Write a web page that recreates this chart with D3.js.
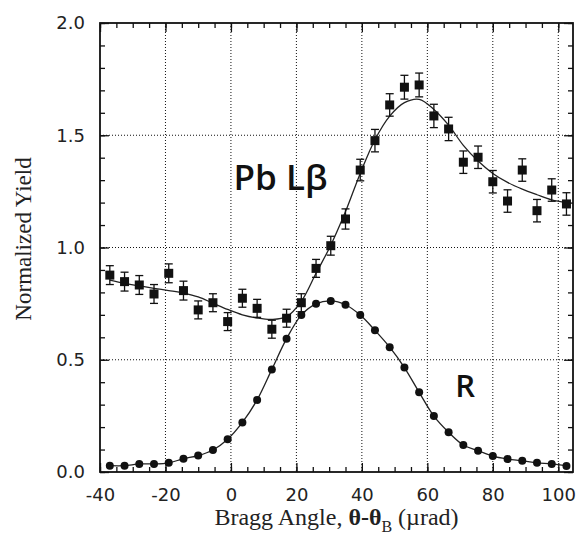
<!DOCTYPE html>
<html>
<head>
<meta charset="utf-8">
<script src="https://cdn.jsdelivr.net/npm/d3@7"></script>
<style>
  body { margin: 0; background: #fff; }
  .tick text { font-family: "DejaVu Sans", sans-serif; font-size: 18px; fill: #222; }
  .domain { display: none; }
</style>
</head>
<body>
<div class="svg"></div>
<script>
// Bragg angle (urad) of each scan step
var angle = [-37, -32.5, -28, -23.5, -19, -14.5, -10, -5.5, -1, 3.5, 8, 12.5, 17, 21.5, 26, 30.5,
             35, 39.5, 44, 48.5, 53, 57.5, 62, 66.5, 71, 75.5, 80, 84.5, 89, 93.5, 98, 102.5];

// Pb L-beta yield with error bars
var pbYield = [0.877, 0.848, 0.833, 0.793, 0.885, 0.808, 0.722, 0.754, 0.670, 0.774, 0.729, 0.636, 0.685, 0.754, 0.907, 1.008,
               1.127, 1.345, 1.476, 1.635, 1.714, 1.724, 1.586, 1.528, 1.380, 1.402, 1.293, 1.207, 1.345, 1.164, 1.256, 1.194];
var pbError = [0.042, 0.042, 0.042, 0.042, 0.042, 0.042, 0.04, 0.04, 0.04, 0.04, 0.04, 0.04, 0.04, 0.04, 0.04, 0.042,
               0.045, 0.048, 0.05, 0.05, 0.053, 0.053, 0.052, 0.052, 0.05, 0.05, 0.05, 0.05, 0.05, 0.05, 0.05, 0.05];
// fitted Pb L-beta curve
var pbFit = [0.855, 0.840, 0.829, 0.818, 0.808, 0.797, 0.780, 0.752, 0.724, 0.700, 0.686, 0.680, 0.692, 0.760, 0.885, 1.010,
             1.160, 1.330, 1.480, 1.585, 1.645, 1.660, 1.615, 1.545, 1.455, 1.385, 1.330, 1.290, 1.260, 1.235, 1.212, 1.200];

// reflectivity R
var rYield = [0.028, 0.028, 0.036, 0.036, 0.041, 0.059, 0.073, 0.098, 0.146, 0.221, 0.321, 0.457, 0.594, 0.699, 0.749, 0.762,
              0.745, 0.699, 0.631, 0.556, 0.465, 0.355, 0.249, 0.177, 0.120, 0.095, 0.071, 0.058, 0.050, 0.041, 0.036, 0.027];

var xMajor = [-40, -20, 0, 20, 40, 60, 80, 100];
var xMinor = d3.range(-40, 105, 5);
var yMajor = [0.0, 0.5, 1.0, 1.5, 2.0];
var yMinor = d3.range(0, 2.01, 0.1);

var margin = {top: 23, right: 4, bottom: 70, left: 100},
    outerWidth = 577,
    outerHeight = 542,
    width = outerWidth - margin.left - margin.right,
    height = outerHeight - margin.top - margin.bottom;

var x = d3.scaleLinear().domain([-40, 104.5]).range([0, width]);
var y = d3.scaleLinear().domain([0, 2]).range([height, 0]);

var outer = d3.select(".svg").append("svg")
    .attr("width", outerWidth)
    .attr("height", outerHeight);

var svg = outer.append("g")
    .attr("transform", "translate(" + margin.left + "," + margin.top + ")");

// dotted grid at the inner major ticks
svg.selectAll(".gx").data(xMajor.slice(1)).enter().append("line")
    .attr("x1", function(d){ return x(d); }).attr("x2", function(d){ return x(d); })
    .attr("y1", 0).attr("y2", height)
    .attr("stroke", "#111").attr("stroke-width", 1).attr("stroke-dasharray", "1,2");
svg.selectAll(".gy").data(yMajor.slice(1, -1)).enter().append("line")
    .attr("y1", function(d){ return y(d); }).attr("y2", function(d){ return y(d); })
    .attr("x1", 0).attr("x2", width)
    .attr("stroke", "#111").attr("stroke-width", 1).attr("stroke-dasharray", "1,2");

// inward ticks on all four sides
function addAxis(axis, tx, ty, labels) {
  var g = svg.append("g").attr("transform", "translate(" + tx + "," + ty + ")").call(axis);
  g.selectAll(".tick line").attr("stroke", "#111").attr("stroke-width", 1.3);
  if (!labels) g.selectAll(".tick text").remove();
  return g;
}
addAxis(d3.axisBottom(x).tickValues(xMinor).tickSize(-5), 0, height, false);
addAxis(d3.axisTop(x).tickValues(xMinor).tickSize(-5), 0, 0, false);
addAxis(d3.axisLeft(y).tickValues(yMinor).tickSize(-5), 0, 0, false);
addAxis(d3.axisRight(y).tickValues(yMinor).tickSize(-5), width, 0, false);

addAxis(d3.axisBottom(x).tickValues(xMajor).tickSize(-9).tickPadding(16)
    .tickFormat(function(d){ return String(d); }), 0, height, true);
addAxis(d3.axisTop(x).tickValues(xMajor).tickSize(-9), 0, 0, false);
addAxis(d3.axisLeft(y).tickValues(yMajor).tickSize(-9).tickPadding(15).tickFormat(d3.format(".1f")), 0, 0, true);
addAxis(d3.axisRight(y).tickValues(yMajor).tickSize(-9), width, 0, false);

// frame
svg.append("rect")
    .attr("width", width).attr("height", height)
    .attr("fill", "none").attr("stroke", "#111").attr("stroke-width", 1.8);

// fit lines
var pbLine = d3.line()
    .x(function(d, i){ return x(angle[i]); })
    .y(function(d){ return y(d); })
    .curve(d3.curveCatmullRom);

svg.append("path").attr("d", pbLine(pbFit))
    .attr("fill", "none").attr("stroke", "#222").attr("stroke-width", 1.3);
svg.append("path").attr("d", pbLine(rYield))
    .attr("fill", "none").attr("stroke", "#222").attr("stroke-width", 1.3);

// Pb error bars
var eb = svg.selectAll(".eb").data(pbYield).enter().append("g");
eb.append("line")
    .attr("x1", function(d, i){ return x(angle[i]); }).attr("x2", function(d, i){ return x(angle[i]); })
    .attr("y1", function(d, i){ return y(d - pbError[i]); })
    .attr("y2", function(d, i){ return y(d + pbError[i]); });
eb.append("line")
    .attr("x1", function(d, i){ return x(angle[i]) - 4; }).attr("x2", function(d, i){ return x(angle[i]) + 4; })
    .attr("y1", function(d, i){ return y(d - pbError[i]); })
    .attr("y2", function(d, i){ return y(d - pbError[i]); });
eb.append("line")
    .attr("x1", function(d, i){ return x(angle[i]) - 4; }).attr("x2", function(d, i){ return x(angle[i]) + 4; })
    .attr("y1", function(d, i){ return y(d + pbError[i]); })
    .attr("y2", function(d, i){ return y(d + pbError[i]); });
eb.selectAll("line").attr("stroke", "#111").attr("stroke-width", 1.3);

// Pb squares
svg.selectAll(".sq").data(pbYield).enter().append("rect")
    .attr("x", function(d, i){ return x(angle[i]) - 4.5; })
    .attr("y", function(d){ return y(d) - 4.5; })
    .attr("width", 9).attr("height", 9)
    .attr("fill", "#111");

// R circles
svg.selectAll(".ci").data(rYield).enter().append("circle")
    .attr("cx", function(d, i){ return x(angle[i]); })
    .attr("cy", function(d){ return y(d); })
    .attr("r", 4)
    .attr("fill", "#111");

// curve labels
svg.append("text").attr("x", x(0.8)).attr("y", y(1.255))
    .style("font-family", "'Open Sans', sans-serif").style("font-weight", "600")
    .style("font-size", "35px").attr("fill", "#111")
    .text("Pb Lβ");
svg.append("text").attr("x", x(68.5)).attr("y", y(0.335))
    .style("font-family", "'Open Sans', sans-serif").style("font-weight", "600")
    .style("font-size", "31px").attr("fill", "#111")
    .text("R");

// axis titles
var xt = outer.append("text")
    .attr("x", margin.left + width / 2).attr("y", 525)
    .attr("text-anchor", "middle")
    .style("font-family", "'Liberation Serif', 'Times New Roman', serif").style("font-size", "24px").attr("fill", "#222");
xt.append("tspan").text("Bragg Angle, ");
xt.append("tspan").style("font-weight", "bold").text("θ-θ");
xt.append("tspan").attr("dy", 7).style("font-size", "16px").text("B");
xt.append("tspan").attr("dy", -7).text(" (µrad)");

outer.append("text")
    .attr("transform", "translate(31,239) rotate(-90)")
    .attr("text-anchor", "middle")
    .style("font-family", "'Liberation Serif', 'Times New Roman', serif").style("font-size", "23px").attr("fill", "#222")
    .text("Normalized Yield");
</script>
</body>
</html>
